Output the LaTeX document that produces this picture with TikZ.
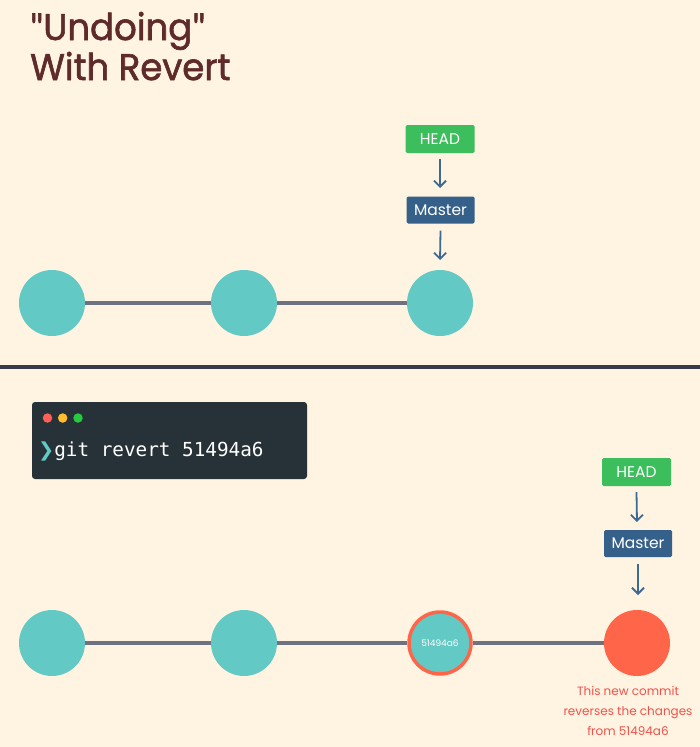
\documentclass[tikz,border=0pt]{standalone}
\usepackage{fontspec}
\usepackage{graphicx}
\setmainfont{Poppins}
\newfontfamily\titlefont[FakeBold=1.6]{Poppins}
\newfontfamily\quotefont[FakeBold=1.6]{Lato}
\newfontfamily\monofont{DejaVu Sans Mono}
\newfontfamily\symfont{DejaVu Sans}
\usetikzlibrary{arrows.meta}
\definecolor{bgc}{HTML}{FFF3E2}
\definecolor{titlec}{HTML}{5E2A2A}
\definecolor{tealc}{HTML}{62C9C5}
\definecolor{linec}{HTML}{6E7180}
\definecolor{headc}{HTML}{3DBE5D}
\definecolor{masterc}{HTML}{35608A}
\definecolor{arrowc}{HTML}{3D6A93}
\definecolor{divc}{HTML}{353B48}
\definecolor{termc}{HTML}{263238}
\definecolor{redc}{HTML}{FF6548}
\definecolor{captc}{HTML}{F0524A}
\definecolor{dotr}{HTML}{FF5F56}
\definecolor{doty}{HTML}{FFBD2E}
\definecolor{dotg}{HTML}{27C93F}
\newcommand{\qt}{{\quotefont\symbol{34}}}
\tikzset{
  commit/.style={circle, fill=tealc, minimum size=66pt, inner sep=0pt},
  newcommit/.style={circle, fill=redc, minimum size=66pt, inner sep=0pt},
  revcommit/.style={circle, fill=tealc, draw=redc, line width=3.5pt, minimum size=62pt, inner sep=0pt, text=white, font=\fontsize{9}{10}\selectfont},
  headbox/.style={fill=headc, rounded corners=1.5pt, minimum width=69pt, minimum height=28pt, inner sep=0pt, text=white, font=\fontsize{15.5}{16}\selectfont},
  masterbox/.style={fill=masterc, rounded corners=1.5pt, minimum width=68pt, minimum height=27pt, inner sep=0pt, text=white, font=\fontsize{15.5}{16}\selectfont},
  ptr/.style={draw=arrowc, line width=1.8pt, -{Straight Barb[length=6pt,width=12pt]}},
  link/.style={draw=linec, line width=4pt},
  titletext/.style={anchor=base west, text=titlec, font=\fontsize{37}{40}\selectfont\titlefont, inner sep=0pt},
  dot/.style={circle, minimum size=9.5pt, inner sep=0pt},
}
\begin{document}
\begin{tikzpicture}[x=1pt,y=-1pt]
\fill[bgc] (0,0) rectangle (700,747);
\useasboundingbox (0,0) rectangle (700,747);
% title
\node[titletext] (t1) at (30,40) {\scalebox{0.96}[1]{\qt Undoing\qt}};
\node[titletext] (t2) at (30,80) {\scalebox{0.96}[1]{With Revert}};
% top graph
\node[commit] (a1) at (52,303) {};
\node[commit] (a2) at (244,303) {};
\node[commit] (a3) at (440,303) {};
\draw[link] (a1) -- (a2);
\draw[link] (a2) -- (a3);
\node[headbox] (h1) at (440,139) {HEAD};
\node[masterbox] (m1) at (440.5,210) {Master};
\coordinate (h1e) at (440,188);
\coordinate (m1e) at (440,260);
\draw[ptr] ([yshift=-6pt]h1.south) -- (h1e);
\draw[ptr] ([yshift=-7pt]m1.south) -- (m1e);
% divider
\fill[divc] (0,365) rectangle (700,369);
% terminal
\node[fill=termc, rounded corners=3pt, minimum width=275pt, minimum height=77pt, inner sep=0pt] (term) at (169.5,440.5) {};
\node[dot, fill=dotr] (d1) at (47.5,418) {};
\node[dot, fill=doty] (d2) at (62.7,418) {};
\node[dot, fill=dotg] (d3) at (78,418) {};
\node[anchor=base west, inner sep=0pt, font=\fontsize{19.3}{22}\selectfont] (cmd) at (38,456) {\textcolor{tealc}{\symfont\bfseries ❯}\textcolor{white}{\monofont git revert 51494a6}};
% bottom graph
\node[commit] (b1) at (52,643) {};
\node[commit] (b2) at (244,643) {};
\node[revcommit] (b3) at (440,643) {51494a6};
\node[newcommit] (b4) at (637,643) {};
\draw[link] (b1) -- (b2);
\draw[link] (b2) -- (b3);
\draw[link] (b3) -- (b4);
\node[headbox] (h2) at (636.5,472) {HEAD};
\node[masterbox] (m2) at (638,543.5) {Master};
\coordinate (h2e) at (637,522);
\coordinate (m2e) at (638,595);
\draw[ptr] ([yshift=-6pt]h2.south) -- (h2e);
\draw[ptr] ([yshift=-7pt]m2.south) -- (m2e);
\node[align=center, text=captc, font=\fontsize{12}{20}\selectfont, anchor=north, inner sep=0pt] (cap) at (628,686) {This new commit\\reverses the changes\\from 51494a6};
\end{tikzpicture}
\end{document}
